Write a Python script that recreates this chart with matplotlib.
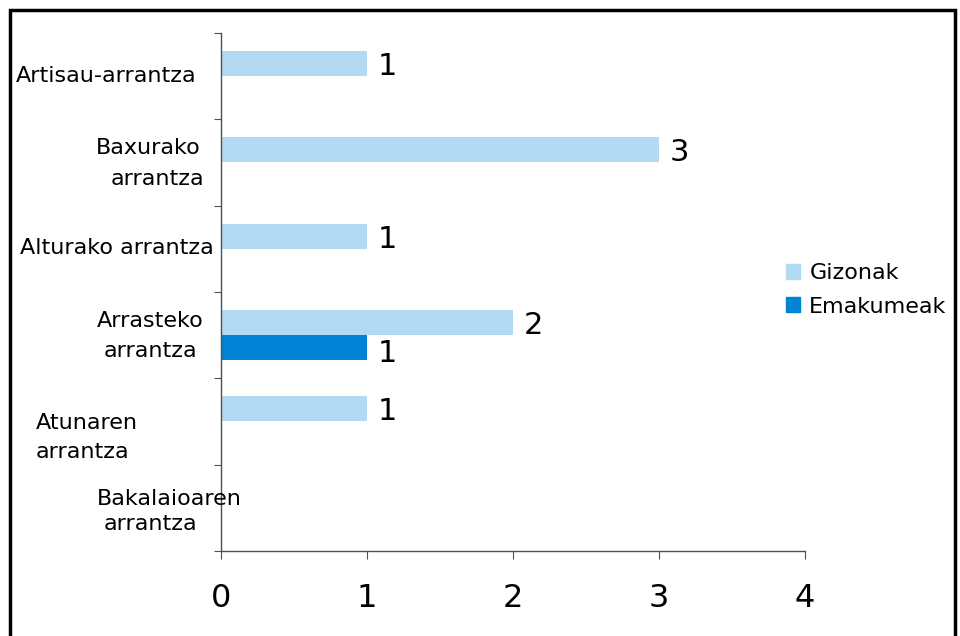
import matplotlib
matplotlib.use('Agg')
import matplotlib.pyplot as plt
import matplotlib.transforms as mtransforms
from matplotlib.patches import Rectangle, Patch
import numpy as np

# data
categories = ['Artisau-arrantza', 'Baxurako arrantza', 'Alturako arrantza',
              'Arrasteko arrantza', 'Atunaren arrantza', 'Bakalaioaren arrantza']
gizonak = [1, 3, 1, 2, 1, 0]
emakumeak = [0, 0, 0, 1, 0, 0]
series_names = ['Gizonak', 'Emakumeak']
xticks = [0, 1, 2, 3, 4]

# category names are wrapped like in the picture: (line, x centre in px, y shift in bands)
label_lines = [
    [('Artisau-arrantza', 106, 0.0)],
    [('Baxurako', 148, -0.17), ('arrantza', 157, 0.19)],
    [('Alturako arrantza', 117, -0.01)],
    [('Arrasteko', 150, -0.16), ('arrantza', 150, 0.18)],
    [('Atunaren', 87, 0.02), ('arrantza', 82, 0.35)],
    [('Bakalaioaren', 169, -0.1), ('arrantza', 150, 0.19)],
]

c_light = '#b3daf3'
c_dark = '#0083d5'
axis_col = '#505050'

W, H = 960, 636
fig = plt.figure(figsize=(W / 100, H / 100), dpi=100)
fig.patch.set_facecolor('white')

# frame around the whole chart
fig.patches.append(Rectangle((10 / W, -0.02), 945 / W, 1 - 10 / H + 0.02,
                             transform=fig.transFigure, fill=False,
                             edgecolor='black', linewidth=2.5))

ax_l, ax_r, ax_t, ax_b = 221, 805, 33, 551
ax = fig.add_axes([ax_l / W, 1 - ax_b / H, (ax_r - ax_l) / W, (ax_b - ax_t) / H])

y = np.arange(len(categories))
h = 0.29
ax.barh(y - h / 2, gizonak, height=h, color=c_light, label=series_names[0])
ax.barh(y + h / 2, emakumeak, height=h, color=c_dark, label=series_names[1])

ax.set_xlim(0, 4)
ax.set_ylim(len(categories) - 0.5, -0.5)

for i in range(len(categories)):
    if gizonak[i] > 0:
        ax.annotate(str(gizonak[i]), (gizonak[i], y[i] - h / 2), xytext=(8, -2),
                    textcoords='offset points', va='center', ha='left', fontsize=22)
    if emakumeak[i] > 0:
        ax.annotate(str(emakumeak[i]), (emakumeak[i], y[i] + h / 2), xytext=(8, -4),
                    textcoords='offset points', va='center', ha='left', fontsize=22)

for s in ['top', 'right']:
    ax.spines[s].set_visible(False)
for s in ['left', 'bottom']:
    ax.spines[s].set_color(axis_col)
    ax.spines[s].set_linewidth(1.0)

ax.set_xticks(xticks)
ax.set_xticklabels([str(t) for t in xticks], fontsize=23)
ax.tick_params(axis='x', direction='out', length=6, color=axis_col, pad=17)
ax.set_yticks(np.arange(len(categories) + 1) - 0.5)
ax.set_yticklabels([])
ax.tick_params(axis='y', direction='out', length=5, color=axis_col)

trans = mtransforms.blended_transform_factory(ax.transAxes, ax.transData)
for i, lines in enumerate(label_lines):
    for txt, px, dy in lines:
        ax.text((px - ax_l) / (ax_r - ax_l), y[i] + dy, txt, transform=trans,
                ha='center', va='center', fontsize=16, clip_on=False)

handles = [Patch(color=c_light), Patch(color=c_dark)]
fig.legend(handles, series_names, loc='center left', bbox_to_anchor=(766 / W, 1 - 290 / H),
           frameon=False, fontsize=16, handlelength=0.65, handleheight=0.65,
           handletextpad=0.4, labelspacing=0.6)

fig.savefig('out.png', dpi=100, facecolor='white')
